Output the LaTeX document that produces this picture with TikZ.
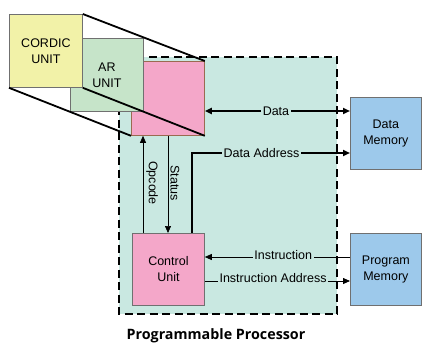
\documentclass[tikz,border=0pt]{standalone}
\usepackage{fontspec}
\setmainfont{Liberation Sans}
\newfontfamily\titlefont{Open Sans}
\usetikzlibrary{arrows.meta}
\definecolor{cordicfill}{HTML}{F2F2A8}
\definecolor{arfill}{HTML}{C6E4C9}
\definecolor{pinkfill}{HTML}{F4A7C9}
\definecolor{procfill}{HTML}{C9E8E1}
\definecolor{memfill}{HTML}{9DC9EB}
\definecolor{boxline}{HTML}{707070}
\definecolor{pinkline}{HTML}{9A6A50}
\tikzset{
  unitbox/.style={draw=boxline, line width=0.8pt, anchor=north west, align=center,
    inner sep=0pt, font=\fontsize{12.5}{16}\selectfont},
  lbl/.style={fill=procfill, inner sep=1.5pt, font=\fontsize{12.5}{14}\selectfont},
  vlbl/.style={inner sep=1pt, rotate=-90, font=\fontsize{12.5}{14}\selectfont},
  tip/.style={-{Triangle[length=7pt,width=6pt]}},
  bitip/.style={{Triangle[length=7pt,width=6pt]}-{Triangle[length=7pt,width=6pt]}},
  extrude/.style={line width=1.8pt, black},
}
\begin{document}
\begin{tikzpicture}[x=1pt, y=-1pt]
\useasboundingbox (0,0) rectangle (422,345);

% processor outline
\draw[fill=procfill, dash pattern=on 8pt off 4.5pt, line width=2.4pt] (119,57) rectangle (337,314);

% stacked execution units
\node[unitbox, draw=pinkline, fill=pinkfill, minimum width=73pt, minimum height=74pt] (ps) at (131,61) {};
\node[unitbox, fill=arfill, minimum width=73pt, minimum height=73pt] (ar) at (70,38) {AR\\UNIT};
\node[unitbox, fill=cordicfill, minimum width=73pt, minimum height=73pt] (cordic) at (9,14) {CORDIC\\UNIT};

\draw[extrude] (cordic.north east) -- (ps.north east);
\draw[extrude] (cordic.south west) -- (ps.south west);
\draw[extrude] (cordic.south east) -- (ps.south east);

% control unit and memories
\node[unitbox, fill=pinkfill, minimum width=72pt, minimum height=72pt] (cu) at (132,233) {Control\\Unit};
\node[unitbox, fill=memfill, minimum width=71pt, minimum height=72pt] (dm) at (350,97) {Data\\Memory};
\node[unitbox, fill=memfill, minimum width=71pt, minimum height=72pt] (pm) at (350,233) {Program\\Memory};

% line levels
\coordinate (ydata) at (0,111);
\coordinate (yaddr) at (0,153);
\coordinate (yins) at (0,257);
\coordinate (yiad) at (0,281);

% data bus
\draw[bitip, line width=1.8pt] (ps.east |- ydata) -- (dm.west |- ydata)
  node[lbl, pos=0.49] {Data};

% data address
\draw[tip, line width=2.2pt] ([xshift=60pt]cu.north west) |- (dm.west |- yaddr)
  node[lbl, pos=0.72] {Data Address};

% opcode and status
\draw[tip, line width=0.7pt] ([xshift=11pt]cu.north west) -- ([xshift=11pt]cu.north west |- ps.south);
\draw[tip, line width=0.7pt] ([xshift=37pt]ps.south west) -- ([xshift=37pt]ps.south west |- cu.north);
\node[vlbl] (op) at (152,183) {Opcode};
\node[vlbl] (st) at (175,183) {Status};

% instruction fetch
\draw[tip, line width=0.8pt] (pm.west |- yins) -- (cu.east |- yins)
  node[lbl, pos=0.46, yshift=2pt] {Instruction};
\draw[tip, line width=0.8pt] (cu.east |- yiad) -- (pm.west |- yiad)
  node[lbl, pos=0.47, yshift=3pt] {Instruction Address};

% caption
\node[font=\titlefont\bfseries\fontsize{14.3}{16}\selectfont] (title) at (216,336) {Programmable Processor};
\end{tikzpicture}
\end{document}
